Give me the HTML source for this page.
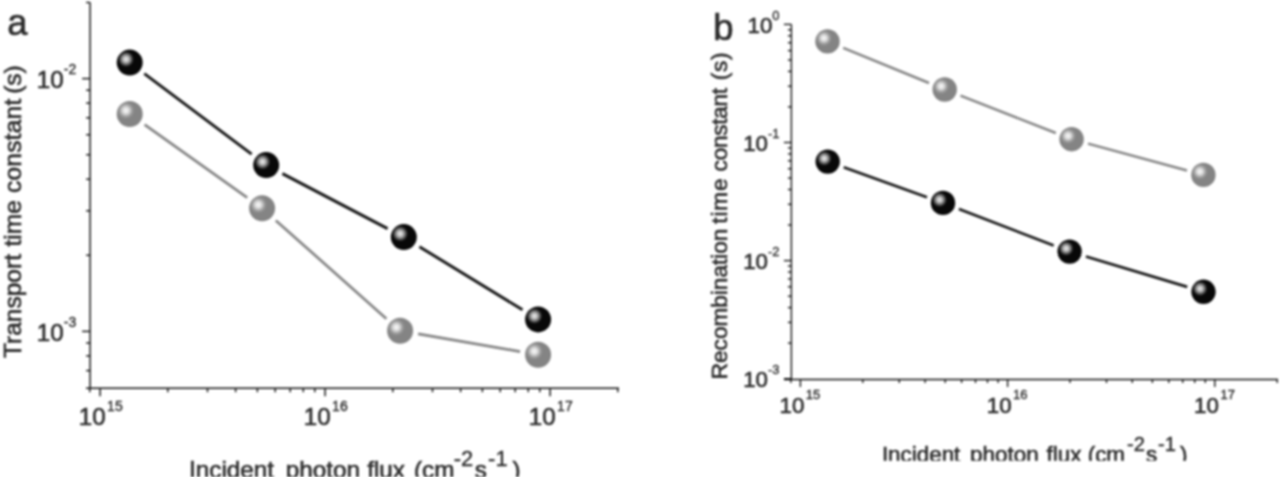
<!DOCTYPE html>
<html lang="en"><head><meta charset="utf-8"><title>Figure</title>
<style>
html,body{margin:0;padding:0;background:#fff;}
body{width:1280px;height:477px;overflow:hidden;position:relative;font-family:"Liberation Sans",Arial,sans-serif;}
svg{position:absolute;left:0;top:0;display:block;}
text{font-family:"Liberation Sans",Arial,sans-serif;fill:#2a2a2a;stroke:#2a2a2a;stroke-width:0.6px;}
svg{filter:blur(0.8px);}
tspan.s{stroke-width:0.35px;}
</style></head><body>
<svg width="1280" height="477" viewBox="0 0 1280 477">
<defs>
<radialGradient id="gb" cx="0.36" cy="0.37" r="0.30" fx="0.36" fy="0.37">
<stop offset="0" stop-color="#f2f2f2"/><stop offset="0.38" stop-color="#b8b8b8"/><stop offset="1" stop-color="#080808"/>
</radialGradient>
<radialGradient id="gg" cx="0.355" cy="0.365" r="0.33" fx="0.355" fy="0.365">
<stop offset="0" stop-color="#fbfbfb"/><stop offset="0.35" stop-color="#dedede"/><stop offset="0.75" stop-color="#999"/><stop offset="1" stop-color="#848484"/>
</radialGradient>
<clipPath id="ca"><rect x="0" y="0" width="640" height="477"/></clipPath>
<clipPath id="cb"><rect x="640" y="0" width="640" height="460.8"/></clipPath>
</defs>
<rect width="1280" height="477" fill="#fff"/>

<g id="chart-a">
<g stroke="#111" stroke-width="1.45" fill="none" stroke-linecap="butt">
<line x1="90.1" y1="2.5" x2="90.1" y2="388.2"/>
<line x1="86" y1="388.2" x2="619" y2="388.2"/>
<line x1="89.8" y1="388.2" x2="89.8" y2="392.2"/>
<line x1="100.1" y1="388.2" x2="100.1" y2="396.2"/>
<line x1="167.8" y1="388.2" x2="167.8" y2="392.2"/>
<line x1="207.5" y1="388.2" x2="207.5" y2="392.2"/>
<line x1="235.6" y1="388.2" x2="235.6" y2="392.2"/>
<line x1="257.4" y1="388.2" x2="257.4" y2="392.2"/>
<line x1="275.2" y1="388.2" x2="275.2" y2="392.2"/>
<line x1="290.2" y1="388.2" x2="290.2" y2="392.2"/>
<line x1="303.3" y1="388.2" x2="303.3" y2="392.2"/>
<line x1="314.8" y1="388.2" x2="314.8" y2="392.2"/>
<line x1="325.1" y1="388.2" x2="325.1" y2="396.2"/>
<line x1="392.8" y1="388.2" x2="392.8" y2="392.2"/>
<line x1="432.5" y1="388.2" x2="432.5" y2="392.2"/>
<line x1="460.6" y1="388.2" x2="460.6" y2="392.2"/>
<line x1="482.4" y1="388.2" x2="482.4" y2="392.2"/>
<line x1="500.2" y1="388.2" x2="500.2" y2="392.2"/>
<line x1="515.2" y1="388.2" x2="515.2" y2="392.2"/>
<line x1="528.3" y1="388.2" x2="528.3" y2="392.2"/>
<line x1="539.8" y1="388.2" x2="539.8" y2="392.2"/>
<line x1="550.1" y1="388.2" x2="550.1" y2="396.2"/>
<line x1="617.8" y1="388.2" x2="617.8" y2="392.2"/>
<line x1="82.1" y1="78.6" x2="90.1" y2="78.6"/>
<line x1="86.1" y1="2.5" x2="90.1" y2="2.5"/>
<line x1="82.1" y1="331.4" x2="90.1" y2="331.4"/>
<line x1="86.1" y1="255.3" x2="90.1" y2="255.3"/>
<line x1="86.1" y1="210.8" x2="90.1" y2="210.8"/>
<line x1="86.1" y1="179.2" x2="90.1" y2="179.2"/>
<line x1="86.1" y1="154.7" x2="90.1" y2="154.7"/>
<line x1="86.1" y1="134.7" x2="90.1" y2="134.7"/>
<line x1="86.1" y1="117.8" x2="90.1" y2="117.8"/>
<line x1="86.1" y1="103.1" x2="90.1" y2="103.1"/>
<line x1="86.1" y1="90.2" x2="90.1" y2="90.2"/>
<line x1="86.1" y1="370.6" x2="90.1" y2="370.6"/>
<line x1="86.1" y1="355.9" x2="90.1" y2="355.9"/>
<line x1="86.1" y1="343.0" x2="90.1" y2="343.0"/>
</g>
<text x="76.2" y="88.3" font-size="24.2" text-anchor="end">10<tspan class="s" font-size="14" dy="-14.3">-2</tspan></text>
<text x="76.2" y="341.1" font-size="24.2" text-anchor="end">10<tspan class="s" font-size="14" dy="-14.3">-3</tspan></text>
<text x="78.7" y="425" font-size="24.2" text-anchor="start">10<tspan class="s" font-size="14" dx="1.5" dy="-14.3">15</tspan></text>
<text x="303.7" y="425" font-size="24.2" text-anchor="start">10<tspan class="s" font-size="14" dx="1.5" dy="-14.3">16</tspan></text>
<text x="528.7" y="425" font-size="24.2" text-anchor="start">10<tspan class="s" font-size="14" dx="1.5" dy="-14.3">17</tspan></text>
<g stroke="#858585" stroke-width="2.7" stroke-linecap="butt">
<line x1="144.6" y1="124.6" x2="247.2" y2="197.7"/>
<line x1="275.8" y1="220.4" x2="386.4" y2="318.7"/>
<line x1="418.1" y1="333.9" x2="520.1" y2="351.6"/>
</g>
<g stroke="#161616" stroke-width="2.9" stroke-linecap="butt">
<line x1="144.3" y1="73.6" x2="251.6" y2="154.1"/>
<line x1="282.4" y1="173.6" x2="387.6" y2="228.6"/>
<line x1="419.4" y1="246.7" x2="522.5" y2="309.8"/>
</g>
<circle cx="129.7" cy="114.0" r="13" fill="url(#gg)"/>
<circle cx="262.1" cy="208.3" r="13" fill="url(#gg)"/>
<circle cx="400.1" cy="330.8" r="13" fill="url(#gg)"/>
<circle cx="538.1" cy="354.7" r="13" fill="url(#gg)"/>
<circle cx="129.7" cy="62.6" r="13" fill="url(#gb)"/>
<circle cx="266.2" cy="165.1" r="13" fill="url(#gb)"/>
<circle cx="403.8" cy="237.1" r="13" fill="url(#gb)"/>
<circle cx="538.1" cy="319.4" r="13" fill="url(#gb)"/>
<text transform="translate(20.7,0) rotate(-90)" font-size="24.5" text-anchor="start" xml:space="preserve"><tspan x="-358.0" y="0">Transport</tspan> <tspan x="-246.5" y="0">time</tspan> <tspan x="-193.1" y="0" letter-spacing="0.25">constant</tspan> <tspan x="-93.8" y="0">(s)</tspan></text>
<g clip-path="url(#ca)"><text font-size="24.3" xml:space="preserve"><tspan x="189" y="478.3">Incident</tspan> <tspan x="285.7" y="478.3">photon</tspan> <tspan x="367.2" y="478.3">flux</tspan> <tspan x="413.9" y="478.3">(cm</tspan><tspan class="s" x="453.7" y="466.4" font-size="21.9">-2</tspan><tspan x="474.8" y="478.3">s</tspan><tspan class="s" x="488.1" y="466.4" font-size="21.9">-1</tspan><tspan x="512.5" y="478.3">)</tspan></text></g>
<text x="7.3" y="35" font-size="36.5" fill="#111">a</text>
</g>
<g id="chart-b">
<g stroke="#111" stroke-width="1.35" fill="none" stroke-linecap="butt">
<line x1="791.4" y1="24.4" x2="791.4" y2="379.5"/>
<line x1="784" y1="379.5" x2="1278" y2="379.5"/>
<line x1="790.9" y1="379.5" x2="790.9" y2="383.0"/>
<line x1="800.4" y1="379.5" x2="800.4" y2="387.0"/>
<line x1="862.8" y1="379.5" x2="862.8" y2="383.0"/>
<line x1="899.3" y1="379.5" x2="899.3" y2="383.0"/>
<line x1="925.1" y1="379.5" x2="925.1" y2="383.0"/>
<line x1="945.2" y1="379.5" x2="945.2" y2="383.0"/>
<line x1="961.6" y1="379.5" x2="961.6" y2="383.0"/>
<line x1="975.5" y1="379.5" x2="975.5" y2="383.0"/>
<line x1="987.5" y1="379.5" x2="987.5" y2="383.0"/>
<line x1="998.1" y1="379.5" x2="998.1" y2="383.0"/>
<line x1="1007.6" y1="379.5" x2="1007.6" y2="387.0"/>
<line x1="1070.0" y1="379.5" x2="1070.0" y2="383.0"/>
<line x1="1106.5" y1="379.5" x2="1106.5" y2="383.0"/>
<line x1="1132.3" y1="379.5" x2="1132.3" y2="383.0"/>
<line x1="1152.4" y1="379.5" x2="1152.4" y2="383.0"/>
<line x1="1168.8" y1="379.5" x2="1168.8" y2="383.0"/>
<line x1="1182.7" y1="379.5" x2="1182.7" y2="383.0"/>
<line x1="1194.7" y1="379.5" x2="1194.7" y2="383.0"/>
<line x1="1205.3" y1="379.5" x2="1205.3" y2="383.0"/>
<line x1="1214.8" y1="379.5" x2="1214.8" y2="387.0"/>
<line x1="1277.2" y1="379.5" x2="1277.2" y2="383.0"/>
<line x1="783.9" y1="24.4" x2="791.4" y2="24.4"/>
<line x1="783.9" y1="142.5" x2="791.4" y2="142.5"/>
<line x1="787.9" y1="106.9" x2="791.4" y2="106.9"/>
<line x1="787.9" y1="86.2" x2="791.4" y2="86.2"/>
<line x1="787.9" y1="71.4" x2="791.4" y2="71.4"/>
<line x1="787.9" y1="60.0" x2="791.4" y2="60.0"/>
<line x1="787.9" y1="50.6" x2="791.4" y2="50.6"/>
<line x1="787.9" y1="42.7" x2="791.4" y2="42.7"/>
<line x1="787.9" y1="35.8" x2="791.4" y2="35.8"/>
<line x1="787.9" y1="29.8" x2="791.4" y2="29.8"/>
<line x1="783.9" y1="260.6" x2="791.4" y2="260.6"/>
<line x1="787.9" y1="225.0" x2="791.4" y2="225.0"/>
<line x1="787.9" y1="204.3" x2="791.4" y2="204.3"/>
<line x1="787.9" y1="189.5" x2="791.4" y2="189.5"/>
<line x1="787.9" y1="178.1" x2="791.4" y2="178.1"/>
<line x1="787.9" y1="168.7" x2="791.4" y2="168.7"/>
<line x1="787.9" y1="160.8" x2="791.4" y2="160.8"/>
<line x1="787.9" y1="153.9" x2="791.4" y2="153.9"/>
<line x1="787.9" y1="147.9" x2="791.4" y2="147.9"/>
<line x1="783.9" y1="378.7" x2="791.4" y2="378.7"/>
<line x1="787.9" y1="343.1" x2="791.4" y2="343.1"/>
<line x1="787.9" y1="322.4" x2="791.4" y2="322.4"/>
<line x1="787.9" y1="307.6" x2="791.4" y2="307.6"/>
<line x1="787.9" y1="296.2" x2="791.4" y2="296.2"/>
<line x1="787.9" y1="286.8" x2="791.4" y2="286.8"/>
<line x1="787.9" y1="278.9" x2="791.4" y2="278.9"/>
<line x1="787.9" y1="272.0" x2="791.4" y2="272.0"/>
<line x1="787.9" y1="266.0" x2="791.4" y2="266.0"/>
</g>
<text x="779.6" y="32.8" font-size="22.3" text-anchor="end">10<tspan class="s" font-size="13" dy="-13.2">0</tspan></text>
<text x="779.6" y="150.8" font-size="22.3" text-anchor="end">10<tspan class="s" font-size="13" dy="-13.2">-1</tspan></text>
<text x="779.6" y="268.9" font-size="22.3" text-anchor="end">10<tspan class="s" font-size="13" dy="-13.2">-2</tspan></text>
<text x="779.6" y="387.2" font-size="22.3" text-anchor="end">10<tspan class="s" font-size="13" dy="-13.2">-3</tspan></text>
<text x="779.5" y="412.6" font-size="22.3" text-anchor="start">10<tspan class="s" font-size="13" dx="1.5" dy="-13.2">15</tspan></text>
<text x="986.8" y="412.6" font-size="22.3" text-anchor="start">10<tspan class="s" font-size="13" dx="1.5" dy="-13.2">16</tspan></text>
<text x="1194.1" y="412.6" font-size="22.3" text-anchor="start">10<tspan class="s" font-size="13" dx="1.5" dy="-13.2">17</tspan></text>
<g stroke="#858585" stroke-width="2.5" stroke-linecap="butt">
<line x1="843.2" y1="47.9" x2="929.0" y2="83.0"/>
<line x1="960.5" y1="95.7" x2="1055.8" y2="133.0"/>
<line x1="1088.0" y1="143.6" x2="1187.0" y2="170.5"/>
</g>
<g stroke="#161616" stroke-width="2.7" stroke-linecap="butt">
<line x1="843.7" y1="167.3" x2="927.0" y2="197.2"/>
<line x1="958.9" y1="209.0" x2="1053.7" y2="245.5"/>
<line x1="1085.9" y1="256.5" x2="1187.2" y2="286.9"/>
</g>
<circle cx="827.5" cy="41.4" r="12.2" fill="url(#gg)"/>
<circle cx="944.7" cy="89.5" r="12.2" fill="url(#gg)"/>
<circle cx="1071.6" cy="139.2" r="12.2" fill="url(#gg)"/>
<circle cx="1203.4" cy="174.9" r="12.2" fill="url(#gg)"/>
<circle cx="827.7" cy="161.6" r="12.2" fill="url(#gb)"/>
<circle cx="943" cy="202.9" r="12.2" fill="url(#gb)"/>
<circle cx="1069.6" cy="251.6" r="12.2" fill="url(#gb)"/>
<circle cx="1203.5" cy="291.8" r="12.2" fill="url(#gb)"/>
<text transform="translate(727.2,0) rotate(-90)" font-size="22.6" text-anchor="start" xml:space="preserve"><tspan x="-379.3" y="0">Recombination</tspan> <tspan x="-223.8" y="0" letter-spacing="0.9">time</tspan> <tspan x="-171.4" y="0" letter-spacing="-0.27">constant</tspan> <tspan x="-80.3" y="0" letter-spacing="0.7">(s)</tspan></text>
<g clip-path="url(#cb)"><text font-size="22.4" xml:space="preserve"><tspan x="881.9" y="462">Incident</tspan> <tspan x="970.1" y="462">photon</tspan> <tspan x="1046.5" y="462">flux</tspan> <tspan x="1087.7" y="462">(cm</tspan><tspan class="s" x="1127.1" y="450.7" font-size="20.2">-2</tspan><tspan x="1146.1" y="462">s</tspan><tspan class="s" x="1158" y="450.7" font-size="20.2">-1</tspan><tspan x="1180.1" y="462">)</tspan></text></g>
<text x="713.3" y="40" font-size="36.5" fill="#111">b</text>
</g>
</svg>
</body></html>
